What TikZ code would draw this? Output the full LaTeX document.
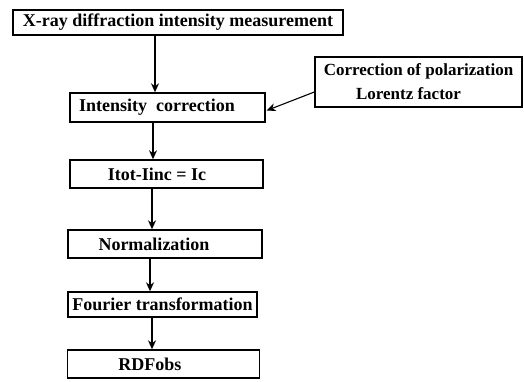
\documentclass[tikz,border=0pt]{standalone}
\usepackage{fontspec}
\setmainfont{Liberation Serif}
\usetikzlibrary{arrows.meta,calc}
\begin{document}
\begin{tikzpicture}[x=1pt,y=-1pt,
  box/.style={draw,line width=1.4pt,inner sep=0pt,font=\fontsize{18}{24}\selectfont\bfseries},
  arr/.style={line width=1.4pt,-{Stealth[length=9pt,width=8pt]}}]
\useasboundingbox (0,0) rectangle (524,381);
\node[box,minimum width=330pt,minimum height=25pt] (b1) at (178,22.5) {X-ray diffraction intensity measurement};
\node[box,minimum width=195pt,minimum height=29pt] (b2) at (167.5,107.5) {Intensity\ \ correction\hspace*{21pt}};
\node[box,minimum width=207pt,minimum height=50pt,align=center,font=\fontsize{17}{24}\selectfont\bfseries] (cr) at (418.5,82) {Correction of polarization\\Lorentz factor\hspace*{20pt}};
\node[box,minimum width=193pt,minimum height=28pt] (b3) at (166.5,174) {Itot-Iinc = Ic\hspace*{19pt}};
\node[box,minimum width=194pt,minimum height=28pt] (b4) at (165,244) {Normalization\hspace*{22pt}};
\node[box,minimum width=189pt,minimum height=25pt] (b5) at (162.5,304.5) {Fourier transformation};
\node[box,minimum width=192pt,minimum height=28pt] (b6) at (163.5,364) {RDFobs\hspace*{27pt}};
\coordinate (x1) at (155,0);
\coordinate (x2) at (153,0);
\coordinate (x3) at (152,0);
\coordinate (x4) at (150,0);
\coordinate (x5) at (152,0);
\draw[arr] (b1.south -| x1) -- (b2.north -| x1);
\draw[arr] (b2.south -| x2) -- (b3.north -| x2);
\draw[arr] (b3.south -| x3) -- (b4.north -| x3);
\draw[arr] (b4.south -| x4) -- (b5.north -| x4);
\draw[arr] (b5.south -| x5) -- (b6.north -| x5);
\draw[arr,line width=1.1pt] ($(cr.west)+(0,10)$) -- ($(b2.east)+(1,3)$);
\end{tikzpicture}
\end{document}
